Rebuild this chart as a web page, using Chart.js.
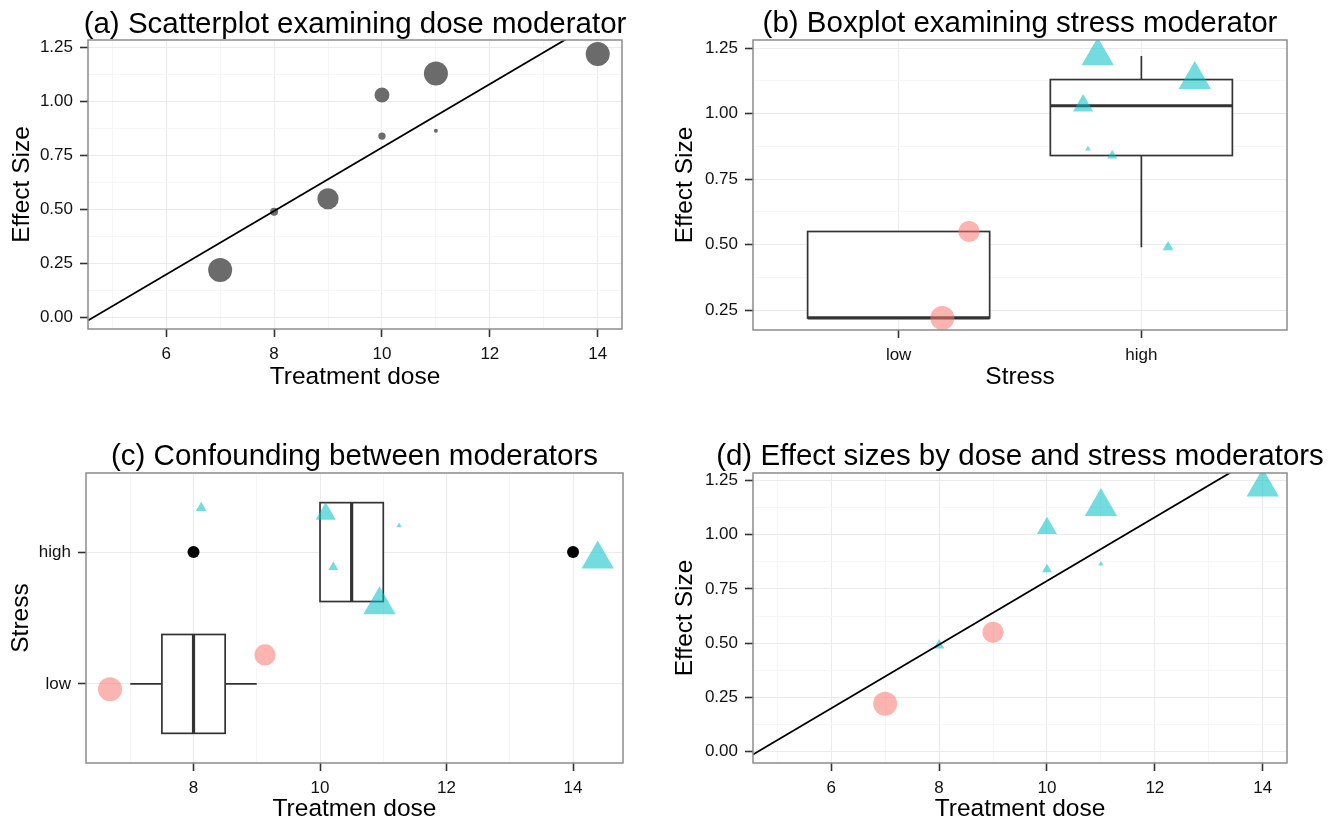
<!DOCTYPE html>
<html><head><meta charset="utf-8">
<script src="https://cdn.jsdelivr.net/npm/chart.js@4/dist/chart.umd.min.js"></script>
<style>
html,body{margin:0;padding:0;background:#fff;}
#wrap{position:relative;width:1331px;height:823px;overflow:hidden;background:#fff;}
canvas{position:absolute;left:0;top:0;}
</style></head><body><div id="wrap">
<canvas id="ca" width="1331" height="823"></canvas>
<canvas id="cb" width="1331" height="823"></canvas>
<canvas id="cc" width="1331" height="823"></canvas>
<canvas id="cd" width="1331" height="823"></canvas>
</div>
<script>
// ---------------- data ----------------
const doseValues    = [7, 8, 9, 10, 10, 11, 11, 14];
const effectSizes   = [0.22, 0.49, 0.55, 1.03, 0.84, 1.13, 0.865, 1.22];
const studyWeights  = [36, 4, 28, 14, 3.4, 36, 1, 36];
const stressGroup   = ['low', 'high', 'low', 'high', 'high', 'high', 'high', 'high'];
const stressLevels  = ['low', 'high'];
// jittered positions
const stressJitterB = [1.18, 2.11, 1.29, 1.76, 1.88, 2.22, 1.78, 1.82];
const doseJitterC   = [6.68, 8.12, 9.13, 10.09, 10.21, 10.94, 11.25, 14.39];
const stressJitterC = [0.96, 2.335, 1.22, 2.29, 1.886, 1.60, 2.20, 1.947];
// regression line end points
const regLineX = [4.55, 14.45];
const regLineY = [-0.014, 1.441];
// boxplot (b): effect size by stress
const esBoxQ1 = [0.22, 0.84];
const esBoxMedian = [0.22, 1.03];
const esBoxQ3 = [0.55, 1.13];
const esBoxLow = [0.22, 0.49];
const esBoxHigh = [0.55, 1.22];
// boxplot (c): dose by stress
const doseBoxQ1 = [7.5, 10];
const doseBoxMedian = [8, 10.5];
const doseBoxQ3 = [8.5, 11];
const doseBoxLow = [7, 10];
const doseBoxHigh = [9, 11];
const doseOutliers = [8, 14];
const doseOutlierGroup = ['high', 'high'];
// ticks
const doseTicksMajor = [6, 8, 10, 12, 14];
const doseTicksMinor = [5, 7, 9, 11, 13];
const doseTicksMajorC = [8, 10, 12, 14];
const doseTicksMinorC = [7, 9, 11, 13];
const esTicksMajor = [0, 0.25, 0.5, 0.75, 1, 1.25];
const esTicksMinor = [0.125, 0.375, 0.625, 0.875, 1.125];
const esTicksMajorB = [0.25, 0.5, 0.75, 1, 1.25];
const esTicksMinorB = [0.375, 0.625, 0.875, 1.125];
const stressTicks = [1, 2];

// ---------------- styling / layout ----------------
const FONT = '"Liberation Sans", Arial, Helvetica, sans-serif';
const PINK = 'rgba(248,118,109,0.55)';
const CYAN = 'rgba(0,191,196,0.55)';
const GREY = '#6b6b6b';
const TITLE_LH = 24 * 1.2;
const sizeScale = w => 2 * Math.sqrt(w);
const TRI = 1.555;
const levelPos = s => stressLevels.indexOf(s) + 1;

Chart.defaults.font.family = FONT;

const panelDecor = {
  id: 'panelDecor',
  beforeDatasetsDraw(chart, args, o) {
    if (o.boxes) o.boxes(chart);
  },
  afterDatasetsDraw(chart, args, o) {
    const {ctx, chartArea: a} = chart;
    ctx.save();
    ctx.strokeStyle = '#8c8c8c';
    ctx.lineWidth = 1.5;
    ctx.strokeRect(a.left, a.top, a.right - a.left, a.bottom - a.top);
    ctx.font = '29.5px ' + FONT;
    ctx.fillStyle = '#000';
    ctx.textAlign = 'center';
    ctx.textBaseline = 'alphabetic';
    ctx.fillText(o.title, (a.left + a.right) / 2, o.titleY);
    ctx.restore();
  }
};

function axis(cfg) {
  const isMajor = v => cfg.major.some(m => Math.abs(m - v) < 1e-9);
  const all = cfg.major.concat(cfg.minor).sort((p, q) => p - q);
  return {
    type: 'linear', position: cfg.position, min: cfg.min, max: cfg.max,
    afterBuildTicks: s => { s.ticks = all.map(v => ({value: v})); },
    afterFit: s => { if (cfg.position === 'bottom') s.height = cfg.size; else s.width = cfg.size; },
    ticks: {
      autoSkip: false, maxRotation: 0, padding: 7, color: '#111',
      font: {family: FONT, size: 17},
      callback: v => isMajor(v) ? cfg.label(v) : ''
    },
    grid: {
      color: c => (c.tick && isMajor(c.tick.value)) ? '#ebebeb' : '#f6f6f6',
      lineWidth: 1, tickLength: 8, tickWidth: 1.6,
      tickColor: c => (c.tick && isMajor(c.tick.value)) ? '#333' : 'rgba(0,0,0,0)'
    },
    border: {display: false},
    title: {display: true, text: cfg.title, color: '#000', padding: 0, font: {family: FONT, size: 24.5}}
  };
}

function makeChart(id, P, yTitleX, xTitleY, title, titleY, xAx, yAx, datasets, boxes) {
  const left = yTitleX - TITLE_LH / 2;
  const yw = P.l - left;
  const xh = xTitleY + TITLE_LH / 2 - P.b;
  xAx.size = xh; yAx.size = yw;
  xAx.position = 'bottom'; yAx.position = 'left';
  return new Chart(document.getElementById(id), {
    type: 'scatter',
    data: {datasets},
    options: {
      responsive: false, animation: false, events: [],
      layout: {padding: {left: left, right: 1331 - P.r, top: P.t, bottom: 823 - (P.b + xh)}},
      scales: {x: axis(xAx), y: axis(yAx)},
      plugins: {legend: {display: false}, tooltip: {enabled: false},
        panelDecor: {title, titleY, boxes}}
    },
    plugins: [panelDecor]
  });
}

const fix2 = v => v.toFixed(2);
const intLab = v => String(Math.round(v));
const lvlLab = v => stressLevels[Math.round(v) - 1];

const radiusCircle = studyWeights.map(sizeScale);
const radiusShape = studyWeights.map((w, i) => stressGroup[i] === 'high' ? TRI * sizeScale(w) : sizeScale(w));
const shapeStyle = stressGroup.map(s => s === 'high' ? 'triangle' : 'circle');
const shapeColor = stressGroup.map(s => s === 'high' ? CYAN : PINK);

function lineDataset() {
  return {data: regLineX.map((x, i) => ({x, y: regLineY[i]})), showLine: true, borderColor: '#000',
    borderWidth: 1.8, pointRadius: 0, clip: 0};
}

function drawVBoxes(chart) {
  const {ctx, scales: {x, y}} = chart;
  ctx.save();
  ctx.strokeStyle = '#333'; ctx.fillStyle = '#fff'; ctx.lineWidth = 1.7;
  stressTicks.forEach((pos, i) => {
    const x0 = x.getPixelForValue(pos - 0.375), x1 = x.getPixelForValue(pos + 0.375), xc = x.getPixelForValue(pos);
    const yq1 = y.getPixelForValue(esBoxQ1[i]), yq3 = y.getPixelForValue(esBoxQ3[i]);
    const ym = y.getPixelForValue(esBoxMedian[i]);
    ctx.beginPath();
    ctx.moveTo(xc, yq3); ctx.lineTo(xc, y.getPixelForValue(esBoxHigh[i]));
    ctx.moveTo(xc, yq1); ctx.lineTo(xc, y.getPixelForValue(esBoxLow[i]));
    ctx.stroke();
    ctx.fillRect(x0, yq3, x1 - x0, yq1 - yq3);
    ctx.strokeRect(x0, yq3, x1 - x0, yq1 - yq3);
    ctx.save(); ctx.lineWidth = 3.2;
    ctx.beginPath(); ctx.moveTo(x0, ym); ctx.lineTo(x1, ym); ctx.stroke();
    ctx.restore();
  });
  ctx.restore();
}

function drawHBoxes(chart) {
  const {ctx, scales: {x, y}} = chart;
  ctx.save();
  ctx.strokeStyle = '#333'; ctx.fillStyle = '#fff'; ctx.lineWidth = 1.7;
  stressTicks.forEach((pos, i) => {
    const y0 = y.getPixelForValue(pos + 0.375), y1 = y.getPixelForValue(pos - 0.375), yc = y.getPixelForValue(pos);
    const xq1 = x.getPixelForValue(doseBoxQ1[i]), xq3 = x.getPixelForValue(doseBoxQ3[i]);
    const xm = x.getPixelForValue(doseBoxMedian[i]);
    ctx.beginPath();
    ctx.moveTo(xq3, yc); ctx.lineTo(x.getPixelForValue(doseBoxHigh[i]), yc);
    ctx.moveTo(xq1, yc); ctx.lineTo(x.getPixelForValue(doseBoxLow[i]), yc);
    ctx.stroke();
    ctx.fillRect(xq1, y0, xq3 - xq1, y1 - y0);
    ctx.strokeRect(xq1, y0, xq3 - xq1, y1 - y0);
    ctx.save(); ctx.lineWidth = 3.2;
    ctx.beginPath(); ctx.moveTo(xm, y0); ctx.lineTo(xm, y1); ctx.stroke();
    ctx.restore();
  });
  ctx.restore();
}

// (a)
makeChart('ca', {l: 88, r: 622, t: 40, b: 329}, 22, 378,
  '(a) Scatterplot examining dose moderator', 33,
  {min: 4.55, max: 14.45, major: doseTicksMajor, minor: doseTicksMinor, label: intLab, title: 'Treatment dose'},
  {min: -0.053, max: 1.285, major: esTicksMajor, minor: esTicksMinor, label: fix2, title: 'Effect Size'},
  [
    lineDataset(),
    {data: doseValues.map((d, i) => ({x: d, y: effectSizes[i]})), pointRadius: radiusCircle,
     pointBackgroundColor: GREY, pointBorderWidth: 0, pointStyle: 'circle', clip: 0}
  ]);

// (b)
makeChart('cb', {l: 753, r: 1287, t: 40, b: 330}, 685, 378,
  '(b) Boxplot examining stress moderator', 32,
  {min: 0.4, max: 2.6, major: stressTicks, minor: [], label: lvlLab, title: 'Stress'},
  {min: 0.174, max: 1.281, major: esTicksMajorB, minor: esTicksMinorB, label: fix2, title: 'Effect Size'},
  [
    {data: stressJitterB.map((s, i) => ({x: s, y: effectSizes[i]})), pointRadius: radiusShape,
     pointBackgroundColor: shapeColor, pointBorderWidth: 0, pointStyle: shapeStyle, clip: 0}
  ], drawVBoxes);

// (c)
makeChart('cc', {l: 86, r: 623, t: 473, b: 763}, 21, 810,
  '(c) Confounding between moderators', 465,
  {min: 6.3, max: 14.79, major: doseTicksMajorC, minor: doseTicksMinorC, label: intLab, title: 'Treatmen dose'},
  {min: 0.4, max: 2.6, major: stressTicks, minor: [], label: lvlLab, title: 'Stress'},
  [
    {data: doseJitterC.map((d, i) => ({x: d, y: stressJitterC[i]})), pointRadius: radiusShape,
     pointBackgroundColor: shapeColor, pointBorderWidth: 0, pointStyle: shapeStyle, clip: 0},
    {data: doseOutliers.map((d, i) => ({x: d, y: levelPos(doseOutlierGroup[i])})), pointRadius: 6,
     pointBackgroundColor: '#000', pointBorderWidth: 0, clip: 0}
  ], drawHBoxes);

// (d)
makeChart('cd', {l: 753, r: 1287, t: 473, b: 763}, 685, 810,
  '(d) Effect sizes by dose and stress moderators', 465,
  {min: 4.55, max: 14.45, major: doseTicksMajor, minor: doseTicksMinor, label: intLab, title: 'Treatment dose'},
  {min: -0.053, max: 1.285, major: esTicksMajor, minor: esTicksMinor, label: fix2, title: 'Effect Size'},
  [
    lineDataset(),
    {data: doseValues.map((d, i) => ({x: d, y: effectSizes[i]})), pointRadius: radiusShape,
     pointBackgroundColor: shapeColor, pointBorderWidth: 0, pointStyle: shapeStyle, clip: 0}
  ]);
</script>
</body></html>
